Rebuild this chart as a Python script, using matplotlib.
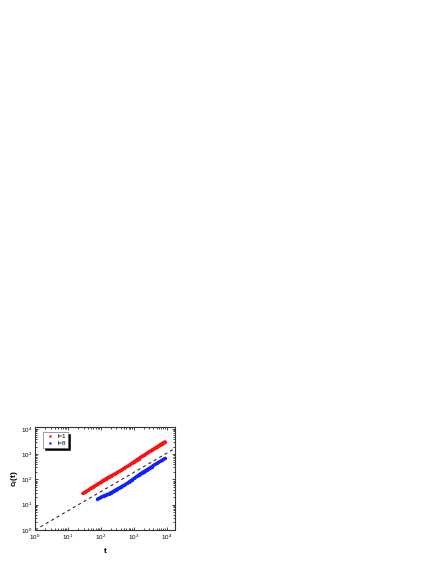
import numpy as np
import matplotlib
matplotlib.use("Agg")
import matplotlib.pyplot as plt
from matplotlib import ticker
from matplotlib.lines import Line2D

plt.rcParams["font.family"] = ["Liberation Sans", "DejaVu Sans"]
plt.rcParams["mathtext.fontset"] = "custom"
plt.rcParams["mathtext.rm"] = "Liberation Sans"
plt.rcParams["mathtext.bf"] = "Liberation Sans:bold"

# l=1 series
t_red = [28, 32, 35.5, 40, 45, 50, 56, 63, 71, 79, 89, 100, 112, 126, 141, 158,
         178, 200, 224, 251, 282, 316, 355, 398, 447, 501, 562, 631, 708, 794,
         891, 1000, 1122, 1259, 1413, 1585, 1778, 1995, 2239, 2512, 2818, 3162,
         3548, 3981, 4467, 5012, 5623, 6310, 7079, 7943, 8913]
c_red = [28, 31, 34, 37, 41, 46, 50, 55, 60, 66, 72, 79, 89, 98, 107, 117,
         129, 138, 148, 162, 174, 191, 209, 229, 251, 275, 302, 331, 363, 407,
         447, 501, 550, 617, 676, 759, 832, 912, 1000, 1122, 1230, 1349,
         1479, 1622, 1778, 1950, 2138, 2399, 2630, 2884, 3162]

# l=8 series
t_blue = [79, 89, 100, 112, 126, 141, 158, 178, 200, 224, 251, 282, 316, 355,
          398, 447, 501, 562, 631, 708, 794, 891, 1000, 1122, 1259, 1413, 1585,
          1778, 1995, 2239, 2512, 2818, 3162, 3548, 3981, 4467, 5012, 5623,
          6310, 7079, 7943, 8913]
c_blue = [17, 18.2, 20, 21.4, 22.9, 24.5, 25.7, 27.5, 30.2, 32.4, 35.5, 38.9,
          42.7, 45.7, 50.1, 55, 58.9, 64.6, 70.8, 79.4, 89.1, 97.7, 110, 120,
          135, 151, 170, 186, 204, 224, 245, 269, 295, 324, 363, 398, 437, 479,
          525, 575, 631, 692]

# guide line
t_guide = [1, 18000]
c_guide = [1, 1700]

fig = plt.figure(figsize=(4.36, 5.64), dpi=100)
ax = fig.add_axes([0.0803, 0.0603, 0.321, 0.1826])

ax.plot(t_guide, c_guide, "--", color="#222222", linewidth=0.75, dashes=(3, 3))
ax.plot(t_red, c_red, "-o", color="#ff1010", linewidth=2.2, markersize=2.4,
        markeredgewidth=0, solid_capstyle="round", label="l=1")
ax.plot(t_blue, c_blue, "-o", color="#1020ff", linewidth=2.2, markersize=2.4,
        markeredgewidth=0, solid_capstyle="round", label="l=8")

ax.set_xscale("log")
ax.set_yscale("log")
ax.set_xlim(1, 1.8e4)
ax.set_ylim(1, 1.2e4)

ax.xaxis.set_major_locator(ticker.LogLocator(base=10, numticks=10))
ax.yaxis.set_major_locator(ticker.LogLocator(base=10, numticks=10))
ax.xaxis.set_minor_locator(ticker.LogLocator(base=10, subs=np.arange(2, 10), numticks=20))
ax.yaxis.set_minor_locator(ticker.LogLocator(base=10, subs=np.arange(2, 10), numticks=20))
ax.xaxis.set_minor_formatter(ticker.NullFormatter())
ax.yaxis.set_minor_formatter(ticker.NullFormatter())

ax.tick_params(which="both", direction="in", top=True, right=True,
               labelsize=4.5, pad=2, width=0.5)
ax.tick_params(which="major", length=2.5)
ax.tick_params(which="minor", length=1.3)
for s in ax.spines.values():
    s.set_linewidth(0.8)
    s.set_color("#333333")

ax.set_xlabel(r"$\mathbf{t}$", fontsize=6, labelpad=3)
ax.set_ylabel(r"$\mathbf{c_l(t)}$", fontsize=6, labelpad=1)

# legend shows dots only
handles = [Line2D([], [], marker="o", linestyle="none", color="#ff1010",
                  markersize=1.8, markeredgewidth=0),
           Line2D([], [], marker="o", linestyle="none", color="#1020ff",
                  markersize=1.8, markeredgewidth=0)]
leg = ax.legend(handles, ["l=1", "l=8"], loc="upper left", fontsize=4.5,
                frameon=True, fancybox=False,
                shadow={"color": "k", "alpha": 1, "ox": 1.5, "oy": -1.5},
                edgecolor="#555555", handlelength=1.6,
                bbox_to_anchor=(0.055, 0.95), borderaxespad=0,
                labelspacing=0.25, handletextpad=0.5, borderpad=0.3)
leg.get_frame().set_linewidth(0.4)

fig.savefig("out.png", dpi=100)
